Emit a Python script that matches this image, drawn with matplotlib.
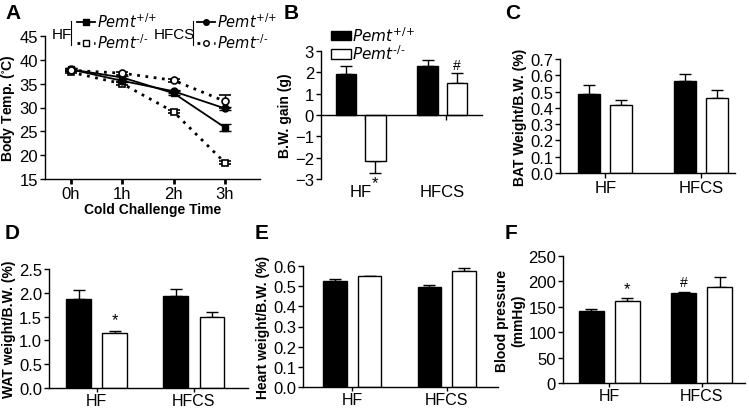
import matplotlib
matplotlib.use("Agg")
import matplotlib.pyplot as plt
from matplotlib.lines import Line2D
from matplotlib.patches import Patch
import numpy as np

plt.rcParams['font.family'] = ['Liberation Sans', 'DejaVu Sans']
plt.rcParams['mathtext.fontset'] = 'custom'
plt.rcParams['mathtext.rm'] = 'Liberation Sans Narrow'
plt.rcParams['mathtext.it'] = 'Liberation Sans Narrow:italic'
plt.rcParams['axes.linewidth'] = 1.0

NARROW = ['Liberation Sans Narrow', 'Liberation Sans', 'DejaVu Sans']

# ---- data ----
hours = ['0h', '1h', '2h', '3h']
hf_wt = [38.0, 36.3, 33.0, 25.8]
hf_wt_err = [0.3, 0.3, 0.4, 0.8]
hf_ko = [37.4, 35.0, 29.1, 18.4]
hf_ko_err = [0.2, 0.3, 0.3, 0.3]
hfcs_wt = [38.0, 35.6, 33.4, 29.8]
hfcs_wt_err = [0.2, 0.3, 0.3, 0.4]
hfcs_ko = [37.8, 37.2, 35.7, 31.3]
hfcs_ko_err = [0.2, 0.3, 0.3, 1.4]

groups = ['HF', 'HFCS']
bw_wt = [1.9, 2.3]
bw_wt_err = [0.4, 0.3]
bw_ko = [-2.15, 1.48]
bw_ko_err = [0.55, 0.5]

bat_wt = [0.485, 0.565]
bat_wt_err = [0.057, 0.045]
bat_ko = [0.415, 0.463]
bat_ko_err = [0.035, 0.048]

wat_wt = [1.87, 1.93]
wat_wt_err = [0.18, 0.14]
wat_ko = [1.16, 1.49]
wat_ko_err = [0.03, 0.10]

heart_wt = [0.526, 0.497]
heart_wt_err = [0.01, 0.009]
heart_ko = [0.551, 0.573]
heart_ko_err = [0.0, 0.016]

bp_wt = [142, 177]
bp_wt_err = [4, 3]
bp_ko = [161, 188]
bp_ko_err = [6, 20]

lbl_wt = r'$Pemt^{{+}/{+}}$'
lbl_ko = '$Pemt^{\u2010/\u2010}$'

W, H = 749, 410
fig = plt.figure(figsize=(W / 100, H / 100), dpi=100)


def box(l, r, t, b):
    return [l / W, 1 - b / H, (r - l) / W, (b - t) / H]


def style(ax, xsize=12):
    for s in ['top', 'right']:
        ax.spines[s].set_visible(False)
    ax.tick_params(axis='both', width=1.0, length=3.5, pad=1.5)
    for t in ax.get_yticklabels():
        t.set_family(NARROW)
        t.set_fontsize(12)
    for t in ax.get_xticklabels():
        t.set_family(NARROW)
        t.set_fontsize(xsize)


def bars(ax, wt, wt_err, ko, ko_err, width, d, xlim, ylim, yticks, ylabel, yfmt, xsize=12):
    x = np.arange(len(groups))
    ax.bar(x - d, wt, width, color='black', edgecolor='black', linewidth=1.0, zorder=2)
    ax.bar(x + d, ko, width, color='white', edgecolor='black', linewidth=1.0, zorder=2)
    ax.errorbar(x - d, wt, yerr=[[0] * len(wt), wt_err], fmt='none', ecolor='black',
                elinewidth=1.0, capsize=4.5, capthick=1.0, zorder=1)
    ax.errorbar(x + d, ko, yerr=[[0] * len(ko), ko_err], fmt='none', ecolor='black',
                elinewidth=1.0, capsize=4.5, capthick=1.0, zorder=1)
    ax.set_xlim(*xlim)
    ax.set_ylim(*ylim)
    ax.set_yticks(yticks)
    ax.set_yticklabels([yfmt.format(v) for v in yticks])
    ax.set_xticks(x)
    ax.set_xticklabels(groups)
    ax.set_ylabel(ylabel, fontsize=10, fontweight='bold', labelpad=2)
    style(ax, xsize)
    if xsize < 12:
        ax.tick_params(axis='x', length=3, pad=0.5)
    return x


# ---- A ----
axA = fig.add_axes(box(45, 260, 37, 180))
xs = np.arange(len(hours))
kw = dict(color='black', elinewidth=1.0, capsize=4, capthick=1.0, markersize=5)
axA.errorbar(xs, hf_wt, yerr=hf_wt_err, marker='s', linestyle='-', linewidth=1.3,
             markerfacecolor='black', markeredgecolor='black', **kw)
axA.errorbar(xs, hf_ko, yerr=hf_ko_err, marker='s', linestyle=(0, (1, 2)), linewidth=2,
             markerfacecolor='white', markeredgecolor='black', markeredgewidth=1.2, **kw)
axA.errorbar(xs, hfcs_wt, yerr=hfcs_wt_err, marker='o', linestyle='-', linewidth=1.3,
             markerfacecolor='black', markeredgecolor='black', **kw)
axA.errorbar(xs, hfcs_ko, yerr=hfcs_ko_err, marker='o', linestyle=(0, (1, 2)), linewidth=2,
             markerfacecolor='white', markeredgecolor='black', markeredgewidth=1.2, **kw)
axA.set_xlim(-0.5, 3.68)
axA.set_ylim(15, 45)
axA.set_yticks([15, 20, 25, 30, 35, 40, 45])
axA.set_xticks(xs)
axA.set_xticklabels(hours)
axA.set_ylabel('Body Temp. ($\\mathregular{^{\\circ}}$C)', fontsize=10, fontweight='bold',
               labelpad=2)
axA.set_xlabel('Cold Challenge Time', fontsize=10, fontweight='bold', labelpad=1)
style(axA)
axA.tick_params(axis='x', width=2, length=3.5)

h_hf = [Line2D([], [], color='black', marker='s', linestyle='-', markersize=4.5, linewidth=1.3),
        Line2D([], [], color='black', marker='s', linestyle=(0, (1, 2)), linewidth=2,
               markersize=4.5, markerfacecolor='white')]
h_hfcs = [Line2D([], [], color='black', marker='o', linestyle='-', markersize=4, linewidth=1.3),
          Line2D([], [], color='black', marker='o', linestyle=(0, (1, 2)), linewidth=2,
                 markersize=4, markerfacecolor='white')]
leg_kw = dict(loc='upper left', frameon=False, fontsize=10.5, handlelength=1.2,
              handletextpad=0.2, labelspacing=0.2, borderpad=0, borderaxespad=0)
fig.legend(h_hf, [lbl_wt, lbl_ko], bbox_to_anchor=(77 / W, 1 - 12 / H), **leg_kw)
fig.legend(h_hfcs, [lbl_wt, lbl_ko], bbox_to_anchor=(197 / W, 1 - 12 / H), **leg_kw)
fig.text(52 / W, 1 - 35 / H, 'HF', fontsize=11, va='center', family=NARROW)
fig.text(154 / W, 1 - 35 / H, 'HFCS', fontsize=11, va='center', family=NARROW)
fig.add_artist(Line2D([71 / W, 71 / W], [1 - 22 / H, 1 - 46 / H], color='black', linewidth=0.8))
fig.add_artist(Line2D([193 / W, 193 / W], [1 - 22 / H, 1 - 46 / H], color='black', linewidth=0.8))

# ---- B ----
axB = fig.add_axes(box(321, 482, 52, 180))
x = np.arange(len(groups))
d, wd = 0.18, 0.25
axB.bar(x - d, bw_wt, wd, color='black', edgecolor='black', linewidth=1.0, zorder=2)
axB.bar(x + d, bw_ko, wd, color='white', edgecolor='black', linewidth=1.0, zorder=2)
axB.errorbar(x - d, bw_wt, yerr=[[0, 0], bw_wt_err], fmt='none', ecolor='black',
             elinewidth=1.0, capsize=4.5, capthick=1.0, zorder=1)
axB.errorbar(x + d, bw_ko, yerr=[[bw_ko_err[0], 0], [0, bw_ko_err[1]]], fmt='none',
             ecolor='black', elinewidth=1.0, capsize=4.5, capthick=1.0, zorder=1)
axB.set_xlim(-0.49, 1.49)
axB.set_ylim(-3, 3)
axB.set_yticks([-3, -2, -1, 0, 1, 2, 3])
axB.set_ylabel('B.W. gain (g)', fontsize=10, fontweight='bold', labelpad=2)
style(axB)
axB.spines['bottom'].set_position(('data', 0))
axB.set_xticks(x + 0.05)
axB.tick_params(axis='x', labelbottom=False, direction='out')
for xi, g in zip(x, groups):
    axB.text(xi, -0.04, g, transform=axB.get_xaxis_transform(), ha='center', va='top',
             fontsize=12, family=NARROW)
axB.text(x[0] + d, bw_ko[0] - bw_ko_err[0] - 0.1, '*', ha='center', va='top', fontsize=12)
axB.text(x[1] + d, bw_ko[1] + bw_ko_err[1] + 0.05, '#', ha='center', va='bottom', fontsize=10)
axB.legend([Patch(facecolor='black', edgecolor='black'),
            Patch(facecolor='white', edgecolor='black')], [lbl_wt, lbl_ko],
           loc='upper left', bbox_to_anchor=(331 / W, 1 - 26 / H), bbox_transform=fig.transFigure,
           frameon=False, fontsize=11, handlelength=1.3, handleheight=0.55,
           handletextpad=0.1, labelspacing=0.0, borderpad=0, borderaxespad=0)

# ---- C ----
axC = fig.add_axes(box(560, 735, 60, 174))
bars(axC, bat_wt, bat_wt_err, bat_ko, bat_ko_err, 0.23, 0.166, (-0.47, 1.35), (0, 0.7),
     [0, 0.1, 0.2, 0.3, 0.4, 0.5, 0.6, 0.7], 'BAT Weight/B.W. (%)', '{:.1f}')

# ---- D ----
axD = fig.add_axes(box(49, 248, 270, 389))
xd = bars(axD, wat_wt, wat_wt_err, wat_ko, wat_ko_err, 0.25, 0.186, (-0.49, 1.56), (0, 2.5),
          [0, 0.5, 1.0, 1.5, 2.0, 2.5], 'WAT weight/B.W. (%)', '{:.1f}', xsize=11.5)
axD.text(xd[0] + 0.186, wat_ko[0] + wat_ko_err[0] + 0.08, '*', ha='center', va='bottom',
         fontsize=12)

# ---- E ----
axE = fig.add_axes(box(303, 498, 267, 388))
bars(axE, heart_wt, heart_wt_err, heart_ko, heart_ko_err, 0.25, 0.184, (-0.52, 1.54), (0, 0.6),
     [0, 0.1, 0.2, 0.3, 0.4, 0.5, 0.6], 'Heart weight/B.W. (%)', '{:.1f}', xsize=11.5)

# ---- F ----
axF = fig.add_axes(box(563, 745, 257, 384))
xf = bars(axF, bp_wt, bp_wt_err, bp_ko, bp_ko_err, 0.27, 0.194, (-0.5, 1.47), (0, 250),
          [0, 50, 100, 150, 200, 250], 'Blood pressure\n(mmHg)', '{:d}', xsize=11.5)
axF.text(xf[0] + 0.194, bp_ko[0] + bp_ko_err[0] + 4, '*', ha='center', va='bottom', fontsize=12)
axF.text(xf[1] - 0.194, bp_wt[1] + bp_wt_err[1] + 6, '#', ha='center', va='bottom', fontsize=10)

# panel letters
for lx, ly, t in [(5, 4, 'A'), (284, 4, 'B'), (505, 4, 'C'),
                  (5, 224, 'D'), (255, 224, 'E'), (505, 224, 'F')]:
    fig.text(lx / W, 1 - ly / H, t, fontsize=15, fontweight='bold', va='top', ha='left')

fig.savefig('out.png', dpi=100)
